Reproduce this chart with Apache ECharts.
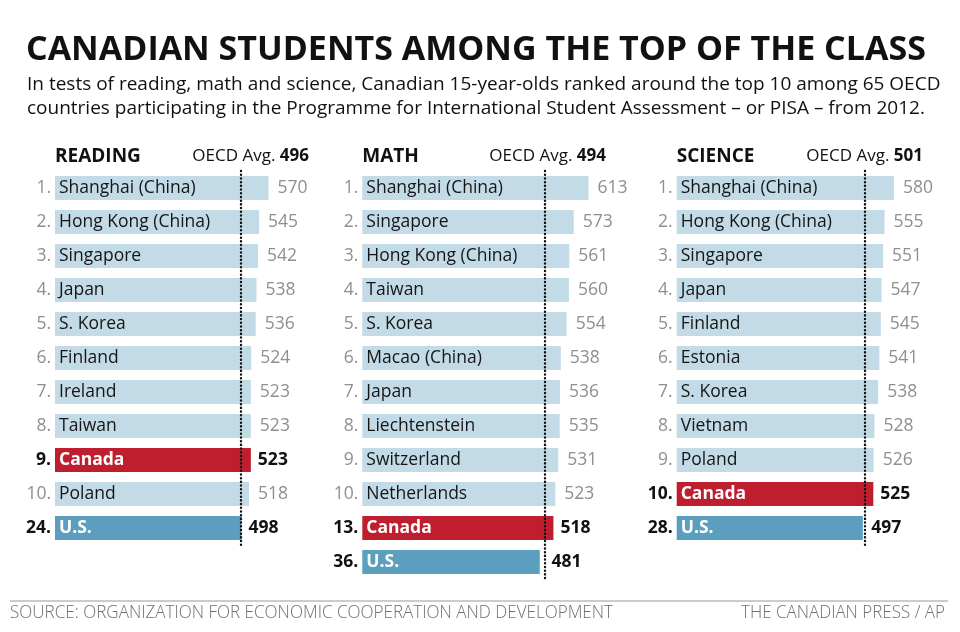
<!DOCTYPE html>
<html>
<head>
<meta charset="utf-8">
<script src="https://cdn.jsdelivr.net/npm/echarts@6/dist/echarts.min.js"></script>
<style>
html,body{margin:0;padding:0;background:#fff;}
#chart{width:960px;height:632px;}
</style>
</head>
<body>
<div id="chart"></div>
<script>
// ---- DATA ----
const subjects = ['READING', 'MATH', 'SCIENCE'];
const oecdAvg = [496, 494, 501];

const readingRanks = [1, 2, 3, 4, 5, 6, 7, 8, 9, 10, 24];
const readingCountries = ['Shanghai (China)', 'Hong Kong (China)', 'Singapore', 'Japan', 'S. Korea', 'Finland', 'Ireland', 'Taiwan', 'Canada', 'Poland', 'U.S.'];
const readingScores = [570, 545, 542, 538, 536, 524, 523, 523, 523, 518, 498];

const mathRanks = [1, 2, 3, 4, 5, 6, 7, 8, 9, 10, 13, 36];
const mathCountries = ['Shanghai (China)', 'Singapore', 'Hong Kong (China)', 'Taiwan', 'S. Korea', 'Macao (China)', 'Japan', 'Liechtenstein', 'Switzerland', 'Netherlands', 'Canada', 'U.S.'];
const mathScores = [613, 573, 561, 560, 554, 538, 536, 535, 531, 523, 518, 481];

const scienceRanks = [1, 2, 3, 4, 5, 6, 7, 8, 9, 10, 28];
const scienceCountries = ['Shanghai (China)', 'Hong Kong (China)', 'Singapore', 'Japan', 'Finland', 'Estonia', 'S. Korea', 'Vietnam', 'Poland', 'Canada', 'U.S.'];
const scienceScores = [580, 555, 551, 547, 545, 541, 538, 528, 526, 525, 497];

const titleText = 'CANADIAN STUDENTS AMONG THE TOP OF THE CLASS';
const subLine1 = 'In tests of reading, math and science, Canadian 15-year-olds ranked around the top 10 among 65 OECD';
const subLine2 = 'countries participating in the Programme for International Student Assessment \u2013 or PISA \u2013 from 2012.';
const sourceText = 'SOURCE: ORGANIZATION FOR ECONOMIC COOPERATION AND DEVELOPMENT';
const creditText = 'THE CANADIAN PRESS / AP';

// ---- STYLE / LAYOUT ----
const FONT = '"Open Sans", sans-serif';
const C_LIGHT = '#c3dbe7', C_RED = '#be1e2e', C_BLUE = '#5c9ebd';
const GRAY = '#8f8f8f';
const AXMAX = 700;
const ROW = 34;
const LBL = 17.5;
const panels = [
  {ranks: readingRanks, names: readingCountries, vals: readingScores, left: 55, scale: 0.3745},
  {ranks: mathRanks, names: mathCountries, vals: mathScores, left: 362.3, scale: 0.369},
  {ranks: scienceRanks, names: scienceCountries, vals: scienceScores, left: 676.7, scale: 0.3745}
];
const TOP = 171;

function colorFor(n) { return n === 'Canada' ? C_RED : (n === 'U.S.' ? C_BLUE : C_LIGHT); }
function isHi(n) { return n === 'Canada' || n === 'U.S.'; }

const grids = [], xAxes = [], yAxes = [], series = [];
panels.forEach((p, i) => {
  grids.push({left: p.left, top: TOP, width: AXMAX * p.scale, height: ROW * p.names.length, containLabel: false});
  xAxes.push({type: 'value', gridIndex: i, min: 0, max: AXMAX, show: false});
  yAxes.push({
    type: 'category', gridIndex: i, inverse: true, data: p.names,
    axisLine: {show: false}, axisTick: {show: false}, splitLine: {show: false},
    axisLabel: {
      margin: 4, fontFamily: FONT, fontSize: LBL, color: GRAY,
      formatter: (v, idx) => isHi(v) ? '{b|' + p.ranks[idx] + '.}' : p.ranks[idx] + '.',
      rich: {b: {fontFamily: FONT, fontSize: LBL, fontWeight: 'bold', color: '#111'}}
    }
  });
  series.push({
    type: 'bar', xAxisIndex: i, yAxisIndex: i, barWidth: 24, silent: true,
    data: p.vals.map((v, k) => ({
      value: v, name: p.names[k],
      itemStyle: {color: colorFor(p.names[k])},
      label: isHi(p.names[k]) ? {color: '#fff', fontWeight: 'bold'} : {}
    })),
    label: {show: true, position: 'insideLeft', distance: 4, formatter: '{b}', fontFamily: FONT, fontSize: LBL, color: '#151515'},
    markLine: {
      silent: true, symbol: ['none', 'none'], label: {show: false},
      lineStyle: {color: '#111', type: [0.1, 3.6], width: 2.4, cap: 'round'},
      data: [{xAxis: oecdAvg[i]}], animation: false
    },
    animation: false
  });
  series.push({
    type: 'bar', xAxisIndex: i, yAxisIndex: i, barWidth: 24, barGap: '-100%', silent: true,
    data: p.vals.map((v, k) => {
      let lab = {};
      if (isHi(p.names[k])) {
        // keep the bold value clear of the dotted average line
        const gap = oecdAvg[i] > v ? (oecdAvg[i] - v) * p.scale : 0;
        lab = {color: '#111', fontWeight: 'bold', distance: 7 + gap};
      }
      return {value: v, name: p.names[k], label: lab};
    }),
    itemStyle: {color: 'rgba(0,0,0,0)'},
    label: {show: true, position: 'right', distance: 9, formatter: '{c}', fontFamily: FONT, fontSize: LBL, color: GRAY},
    animation: false
  });
});

const titles = [
  {text: titleText, left: 26, top: 33, padding: 0, textStyle: {fontFamily: FONT, fontSize: 34, fontWeight: 'bold', color: '#111'}},
  {text: subLine1, left: 27, top: 75, padding: 0, textStyle: {fontFamily: FONT, fontSize: 19, fontWeight: 'normal', color: '#111'}},
  {text: subLine2, left: 27, top: 99, padding: 0, textStyle: {fontFamily: FONT, fontSize: 19, fontWeight: 'normal', color: '#111'}}
];
const headerRight = [309, 606, 923];
panels.forEach((p, i) => {
  titles.push({text: subjects[i], left: p.left, top: 147, padding: 0, textStyle: {fontFamily: FONT, fontSize: 19, fontWeight: 'bold', color: '#111'}});
  titles.push({text: 'OECD Avg. {b|' + oecdAvg[i] + '}', right: 960 - headerRight[i], top: 148, padding: 0,
    textStyle: {fontFamily: FONT, fontSize: 17, fontWeight: 'normal', color: '#111',
      rich: {b: {fontFamily: FONT, fontSize: 17, fontWeight: 'bold', color: '#111'}}}});
});

// footer texts compressed horizontally to mimic the condensed face
const FOOT_FONT = '300 18px "Open Sans", sans-serif';
const mctx = document.createElement('canvas').getContext('2d');
mctx.font = FOOT_FONT;
const srcScale = 603 / mctx.measureText(sourceText).width;
const crdScale = 204 / mctx.measureText(creditText).width;

const chart = echarts.init(document.getElementById('chart'), null, {renderer: 'canvas'});
chart.setOption({
  backgroundColor: '#fff',
  animation: false,
  title: titles,
  grid: grids,
  xAxis: xAxes,
  yAxis: yAxes,
  series: series,
  graphic: [
    {type: 'line', shape: {x1: 10, y1: 601, x2: 948, y2: 601}, style: {stroke: '#9a9a9a', lineWidth: 1.2}},
    {type: 'text', x: 10, y: 622, scaleX: srcScale, style: {text: sourceText, x: 0, y: 0, font: FOOT_FONT, fill: '#6f6f6f', textAlign: 'left', textVerticalAlign: 'bottom'}},
    {type: 'text', x: 945, y: 622, scaleX: crdScale, style: {text: creditText, x: 0, y: 0, font: FOOT_FONT, fill: '#6f6f6f', textAlign: 'right', textVerticalAlign: 'bottom'}}
  ]
});
</script>
</body>
</html>
